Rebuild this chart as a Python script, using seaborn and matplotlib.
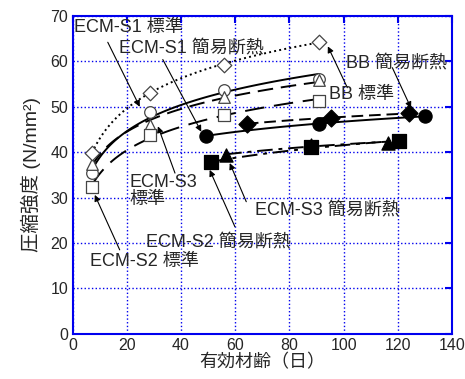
import numpy as np
import pandas as pd
import matplotlib
matplotlib.use('Agg')
import matplotlib.pyplot as plt
import seaborn as sns

sns.set_style('white')
plt.rcParams['font.family'] = ['Liberation Sans', 'Noto Sans CJK JP']

# data -------------------------------
std_age = [7.2, 28.4, 55.7, 90.9]
s1_std = [35.4, 48.8, 53.7, 56.1]
s3_std = [37.5, 46.0, 52.2, 55.8]
s2_std = [32.4, 43.8, 48.2, 51.2]
bb_std = [39.8, 53.1, 59.3, 64.2]

s1_simple_age = [49.4, 90.9, 130.0]
s1_simple = [43.6, 46.3, 47.9]
bb_simple_age = [64.3, 95.4, 124.3]
bb_simple = [46.3, 47.5, 48.6]
s2_simple_age = [51.2, 88.0, 120.6]
s2_simple = [37.8, 41.1, 42.4]
s3_simple_age = [56.7, 88.0, 116.3]
s3_simple = [39.4, 41.6, 42.1]

# series: x, y, marker, filled, line style
series = [
    ('ECM-S1 標準', std_age, s1_std, 'o', False, '-'),
    ('ECM-S3 標準', std_age, s3_std, '^', False, (0, (8, 4))),
    ('ECM-S2 標準', std_age, s2_std, 's', False, (0, (10, 5))),
    ('BB 標準', std_age, bb_std, 'D', False, ':'),
    ('ECM-S1 簡易断熱', s1_simple_age, s1_simple, 'o', True, '-'),
    ('BB 簡易断熱', bb_simple_age, bb_simple, 'D', True, (0, (6, 3))),
    ('ECM-S2 簡易断熱', s2_simple_age, s2_simple, 's', True, (0, (8, 3, 2, 3))),
    ('ECM-S3 簡易断熱', s3_simple_age, s3_simple, '^', True, (0, (8, 3, 2, 3))),
]

fig = plt.figure(figsize=(4.65, 3.79), dpi=100)
ax = fig.add_axes([0.156, 0.119, 0.816, 0.839])

blue = '#0000ee'
for name, x, y, mk, filled, ls in series:
    df = pd.DataFrame({'age': x, 'strength': y})
    sns.regplot(data=df, x='age', y='strength', logx=True, ci=None, scatter=False,
                ax=ax, color='black', line_kws={'linestyle': ls, 'linewidth': 1.4})
for name, x, y, mk, filled, ls in series:
    df = pd.DataFrame({'age': x, 'strength': y})
    ms = 70 if mk != 'D' else 55
    if filled:
        ms += 20
    sns.scatterplot(data=df, x='age', y='strength', marker=mk, s=ms, ax=ax,
                    facecolor='black' if filled else 'white',
                    edgecolor='black' if filled else '#444444', linewidth=0.9, zorder=5)

ax.set_xlim(0, 140)
ax.set_ylim(0, 70)
ax.set_xticks(range(0, 141, 20))
ax.set_yticks(range(0, 71, 10))
ax.grid(True, color=blue, linestyle=':', linewidth=1)
for sp in ax.spines.values():
    sp.set_color(blue)
    sp.set_linewidth(1.5)
ax.tick_params(direction='in', length=5, width=1.5, color=blue, labelsize=11.5,
               top=True, right=True, pad=3)
ax.set_xlabel('有効材齢（日）', fontsize=13, labelpad=1)
ax.set_ylabel('圧縮強度 (N/mm²)', fontsize=14, labelpad=7)

# annotations ------------
arr = dict(arrowstyle='-|>', color='black', linewidth=0.8, mutation_scale=9, shrinkA=0, shrinkB=0)
notes = [
    ('ECM-S1 標準', (24.8, 50.0), (13.0, 64.2), (0.5, 67.4), 'left', 'center'),
    ('ECM-S1 簡易断熱', (47.5, 44.5), (33.3, 60.4), (17.0, 63.0), 'left', 'center'),
    ('BB 簡易断熱', (124.9, 49.7), (118.0, 58.6), (100.9, 59.6), 'left', 'center'),
    ('BB 標準', (94.2, 63.3), (101.4, 54.2), (94.5, 52.6), 'left', 'center'),
    ('ECM-S3\n標準', (31.5, 45.7), (37.8, 35.4), (21.1, 31.5), 'left', 'center'),
    ('ECM-S2 標準', (8.2, 30.6), (17.4, 18.5), (6.4, 16.0), 'left', 'center'),
    ('ECM-S2 簡易断熱', (50.6, 36.1), (59.9, 23.6), (27.2, 20.3), 'left', 'center'),
    ('ECM-S3 簡易断熱', (58.0, 37.6), (64.1, 29.1), (67.2, 27.2), 'left', 'center'),
]
for txt, tip, start, pos, ha, va in notes:
    ax.annotate('', xy=tip, xytext=start, arrowprops=arr, zorder=6)
    ax.text(pos[0], pos[1], txt, ha=ha, va=va, fontsize=13, zorder=7,
            linespacing=1.0)

fig.savefig('out.png', dpi=100)
